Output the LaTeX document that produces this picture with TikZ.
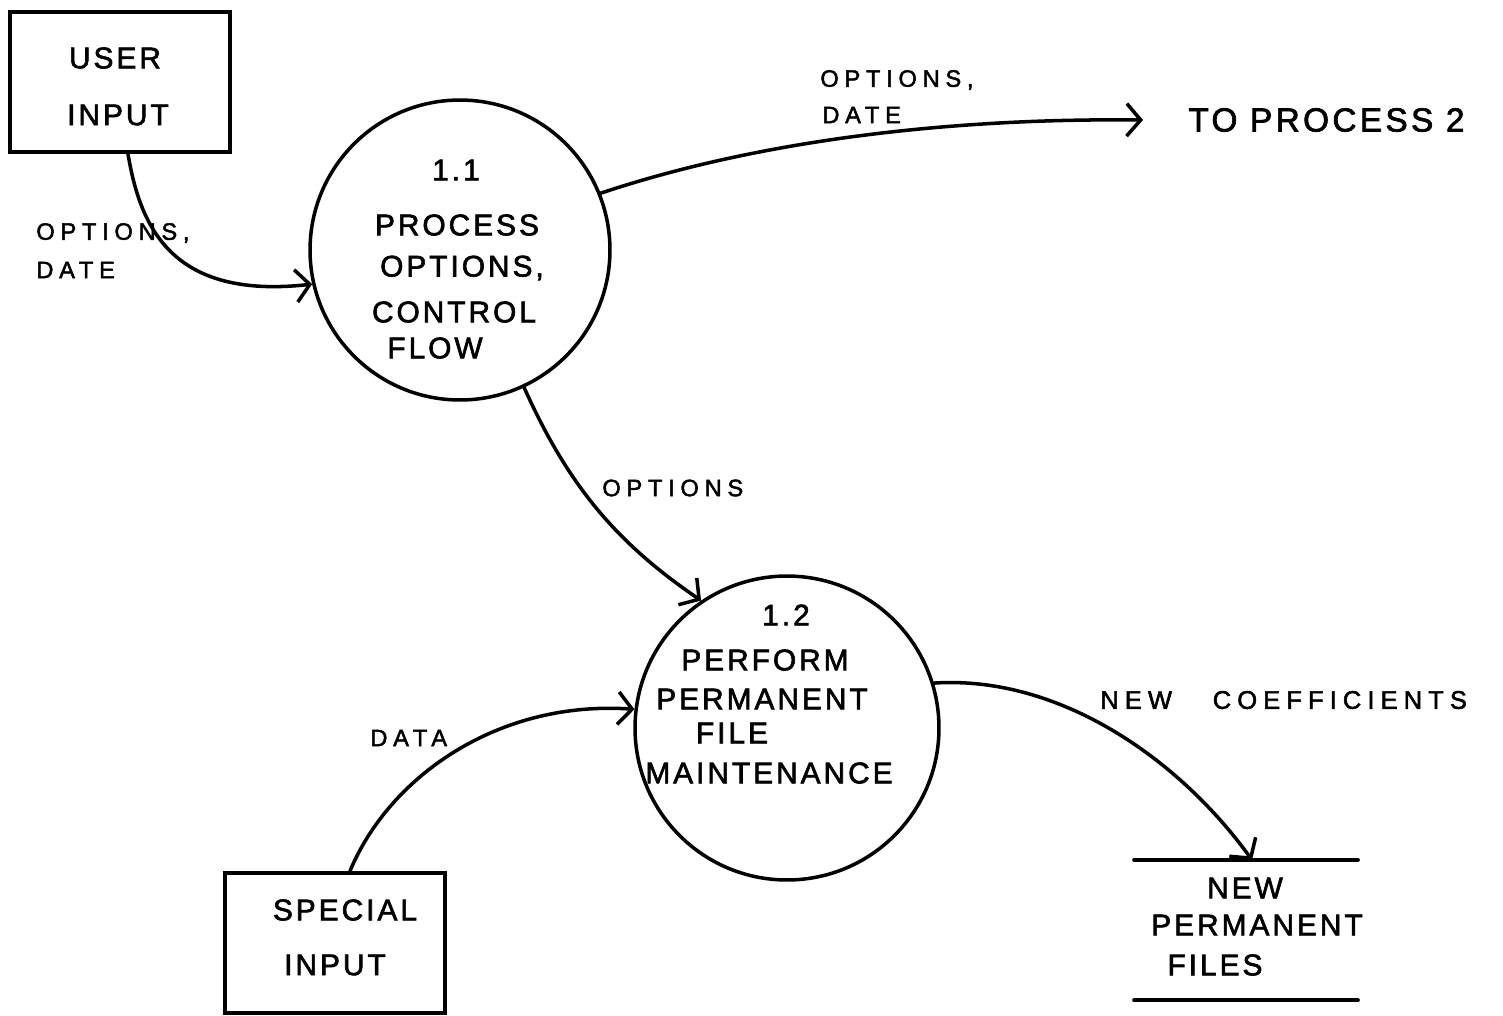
\documentclass[tikz,border=0pt]{standalone}
\usepackage{fontspec}
\usetikzlibrary{arrows.meta}
\newfontfamily\handfont[LetterSpace=10, FakeBold=2]{Liberation Sans}
\newfontfamily\flowfont[LetterSpace=24, FakeBold=2]{Liberation Sans}
\begin{document}
\begin{tikzpicture}[x=0.02cm,y=-0.02cm,
  ink/.style={line width=2pt, line cap=round},
  flow/.style={ink, -{Straight Barb[length=0.28cm,width=0.65cm,line width=2pt]}},
  entity/.style={draw, line width=2.3pt, minimum width=4.4cm, minimum height=2.8cm, inner sep=0pt},
  bubble/.style={draw, circle, line width=2pt, inner sep=0pt},
  txt/.style={font=\handfont\fontsize{17}{20}\selectfont, inner sep=0pt},
  lbl/.style={font=\flowfont\fontsize{13.5}{16}\selectfont, inner sep=0pt, anchor=west}]
\useasboundingbox (0,0) rectangle (1503,1015);

% external entities
\node[entity] (user) at (120,82) {};
\node[txt] (userA) at (115,58) {USER};
\node[txt] (userB) at (118,115) {INPUT};

\node[entity] (spec) at (335,943) {};
\node[txt] (specA) at (345,910) {SPECIAL};
\node[txt] (specB) at (335,965) {INPUT};

% processes
\node[bubble, minimum size=6cm] (p11) at (460,250) {};
\node[txt] (p11n) at (456,170) {1.1};
\node[txt] (p11a) at (457,225) {PROCESS};
\node[txt] (p11b) at (462,268) {OPTIONS,};
\node[txt] (p11c) at (454,312) {CONTROL};
\node[txt] (p11d) at (435,348) {FLOW};

\node[bubble, minimum size=6.08cm] (p12) at (787,728) {};
\node[txt] (p12n) at (786,615) {1.2};
\node[txt] (p12a) at (765,660) {PERFORM};
\node[txt] (p12b) at (762,699) {PERMANENT};
\node[txt] (p12c) at (732,733) {FILE};
\node[txt] (p12d) at (769,773) {MAINTENANCE};

% data store
\node[minimum width=4.46cm, minimum height=2.8cm, inner sep=0pt] (store) at (1246,930) {};
\draw[ink, line width=2.3pt] (store.north west) -- (store.north east);
\draw[ink, line width=2.3pt] (store.south west) -- (store.south east);
\node[txt] (storeA) at (1245,888) {NEW};
\node[txt] (storeB) at (1257,925) {PERMANENT};
\node[txt] (storeC) at (1215,965) {FILES};
\coordinate (storeIn) at (1252,860);

% destination
\node[txt, font=\handfont\fontsize{19}{22}\selectfont, anchor=west] (dest) at (1188,120) {TO PROCESS 2};

% data flows
\draw[flow] ([xshift=0.16cm]user.south) .. controls (140,225) and (170,300) .. (p11.193);
\node[lbl] (lA) at (36,233) {OPTIONS,};
\node[lbl] (lB) at (36,270) {DATE};

\draw[flow] (p11.22) .. controls (760,140) and (950,118) .. ([xshift=-0.9cm]dest.west);
\node[lbl] (lC) at (820,80) {OPTIONS,};
\node[lbl] (lD) at (822,115) {DATE};

\draw[flow] (p11.-65) .. controls (570,490) and (620,545) .. (p12.124);
\node[lbl] (lE) at (602,488) {OPTIONS};

\draw[flow] ([xshift=0.3cm]spec.north) .. controls (390,775) and (500,700) .. (p12.173);
\node[lbl] (lF) at (370,738) {DATA};

\draw[flow] (p12.17) .. controls (1060,675) and (1180,760) .. (storeIn);
\node[lbl, font=\flowfont\fontsize{14.5}{17}\selectfont] (lG) at (1100,700) {NEW\hspace{1.6em}COEFFICIENTS};

\end{tikzpicture}
\end{document}
